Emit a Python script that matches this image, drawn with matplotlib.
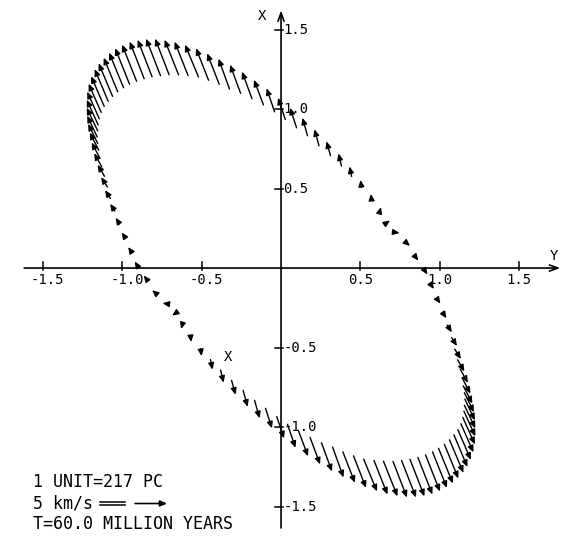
import matplotlib
matplotlib.use("Agg")
import matplotlib.pyplot as plt

# velocity arrows: head position (Y horizontal, X vertical) and velocity vector
# upper-left lobe
ul_y = [0.057, -0.019, -0.091, -0.170, -0.246, -0.321, -0.394, -0.466, -0.536, -0.605,
        -0.671, -0.734, -0.794, -0.851, -0.904, -0.954, -1.002, -1.046, -1.084, -1.118,
        -1.150, -1.175, -1.197, -1.213, -1.222, -1.225, -1.225, -1.222, -1.216, -1.206,
        -1.194, -1.178, -1.156, -1.134, -1.109, -1.077, -1.043, -1.005, -0.964, -0.923]
ul_x = [1.008, 1.071, 1.131, 1.184, 1.235, 1.279, 1.317, 1.351, 1.383, 1.405,
        1.424, 1.436, 1.443, 1.443, 1.436, 1.424, 1.405, 1.383, 1.355, 1.323,
        1.288, 1.251, 1.206, 1.159, 1.109, 1.058, 1.008, 0.958, 0.907, 0.852,
        0.790, 0.722, 0.650, 0.572, 0.490, 0.404, 0.316, 0.224, 0.132, 0.041]
ul_vy = [-0.041, -0.046, -0.050, -0.059, -0.063, -0.066, -0.069, -0.076, -0.079, -0.084,
         -0.085, -0.088, -0.088, -0.091, -0.091, -0.091, -0.091, -0.091, -0.091, -0.088,
         -0.088, -0.085, -0.082, -0.079, -0.076, -0.072, -0.069, -0.063, -0.060, -0.057,
         -0.052, -0.048, -0.043, -0.039, -0.033, -0.029, -0.025, -0.022, -0.019, -0.016]
ul_vx = [0.126, 0.137, 0.148, 0.158, 0.170, 0.180, 0.191, 0.195, 0.202, 0.203,
         0.214, 0.221, 0.227, 0.233, 0.233, 0.233, 0.230, 0.227, 0.221, 0.214,
         0.208, 0.202, 0.189, 0.180, 0.170, 0.158, 0.145, 0.134, 0.123, 0.111,
         0.099, 0.086, 0.073, 0.062, 0.052, 0.045, 0.038, 0.032, 0.028, 0.025]

# lower-right lobe
lr_y = [-0.057, 0.019, 0.091, 0.170, 0.246, 0.321, 0.394, 0.466, 0.536, 0.605,
        0.671, 0.734, 0.794, 0.851, 0.904, 0.954, 1.002, 1.046, 1.084, 1.118,
        1.150, 1.175, 1.197, 1.213, 1.222, 1.225, 1.225, 1.222, 1.216, 1.206,
        1.194, 1.178, 1.156, 1.134, 1.109, 1.077, 1.043, 1.005, 0.964, 0.923]
lr_x = [-1.008, -1.071, -1.131, -1.184, -1.235, -1.279, -1.317, -1.351, -1.383, -1.405,
        -1.424, -1.436, -1.443, -1.443, -1.436, -1.424, -1.405, -1.383, -1.355, -1.323,
        -1.288, -1.251, -1.206, -1.159, -1.109, -1.058, -1.008, -0.958, -0.907, -0.852,
        -0.790, -0.722, -0.650, -0.572, -0.490, -0.404, -0.316, -0.224, -0.132, -0.041]
lr_vy = [0.041, 0.046, 0.050, 0.059, 0.063, 0.066, 0.069, 0.076, 0.079, 0.084,
         0.085, 0.088, 0.088, 0.091, 0.091, 0.091, 0.091, 0.091, 0.091, 0.088,
         0.088, 0.085, 0.082, 0.079, 0.076, 0.072, 0.069, 0.063, 0.060, 0.057,
         0.052, 0.048, 0.043, 0.039, 0.033, 0.029, 0.025, 0.022, 0.019, 0.016]
lr_vx = [-0.126, -0.137, -0.148, -0.158, -0.170, -0.180, -0.191, -0.195, -0.202, -0.203,
         -0.214, -0.221, -0.227, -0.233, -0.233, -0.233, -0.230, -0.227, -0.221, -0.214,
         -0.208, -0.202, -0.189, -0.180, -0.170, -0.158, -0.145, -0.134, -0.123, -0.111,
         -0.099, -0.086, -0.073, -0.062, -0.052, -0.045, -0.038, -0.032, -0.028, -0.025]

# upper-right diagonal
ur_y = [0.135, 0.211, 0.287, 0.362, 0.432, 0.501, 0.567, 0.630, 0.687, 0.747, 0.813, 0.866]
ur_x = [0.945, 0.873, 0.797, 0.721, 0.639, 0.554, 0.466, 0.384, 0.299, 0.221, 0.139, 0.047]
ur_vy = [-0.032, -0.028, -0.025, -0.019, -0.013, -0.006, -0.003, 0.006, 0.019, 0.022, 0.022, 0.022]
ur_vx = [0.113, 0.104, 0.091, 0.079, 0.063, 0.047, 0.032, 0.022, 0.013, -0.003, -0.019, -0.028]

# lower-left diagonal
ll_y = [-0.866, -0.813, -0.747, -0.687, -0.630, -0.567, -0.501, -0.432, -0.362, -0.287, -0.211, -0.135]
ll_x = [-0.047, -0.139, -0.221, -0.299, -0.384, -0.466, -0.554, -0.639, -0.721, -0.797, -0.873, -0.945]
ll_vy = [-0.022, -0.022, -0.022, -0.019, -0.006, 0.003, 0.006, 0.013, 0.019, 0.025, 0.028, 0.032]
ll_vx = [0.028, 0.019, 0.003, -0.013, -0.022, -0.032, -0.047, -0.063, -0.079, -0.091, -0.104, -0.113]

tick_vals = [-1.5, -1.0, -0.5, 0.5, 1.0, 1.5]
tick_labels = ["-1.5", "-1.0", "-0.5", "0.5", "1.0", "1.5"]

plt.rcParams['font.family'] = ['DejaVu Sans Mono', 'DejaVu Sans']

fig = plt.figure(figsize=(5.7, 5.45), dpi=100)
ax = fig.add_axes([0, 0, 1, 1])
ax.set_xlim(-1.772, 1.822)
ax.set_ylim(-1.742, 1.686)
ax.axis('off')

# axes with arrow ends
axis_style = dict(arrowstyle='->,head_length=0.6,head_width=0.22', lw=1.2, color='black',
                  shrinkA=0, shrinkB=0)
ax.annotate('', xy=(1.76, 0), xytext=(-1.62, 0), arrowprops=axis_style)
ax.annotate('', xy=(0, 1.62), xytext=(0, -1.635), arrowprops=axis_style)

for t, lab in zip(tick_vals, tick_labels):
    ax.plot([t, t], [-0.015, 0.035], color='black', lw=1.1)
    ax.plot([-0.035, 0.012], [t, t], color='black', lw=1.1)
    shift = 0.028 if t < 0 else 0.0
    ax.text(t + shift, -0.075, lab, ha='center', va='center', fontsize=10)
    ax.text(0.014, t, lab, ha='left', va='center', fontsize=10)

ax.text(1.72, 0.075, "Y", ha='center', va='center', fontsize=10)
ax.text(-0.118, 1.585, "X", ha='center', va='center', fontsize=10)
ax.text(-0.334, -0.562, "X", ha='center', va='center', fontsize=10)

# velocity arrows
arrow_style = dict(arrowstyle='-|>,head_length=0.38,head_width=0.17', lw=1.0, color='black',
                   shrinkA=0, shrinkB=0)
groups = [(ul_y, ul_x, ul_vy, ul_vx), (lr_y, lr_x, lr_vy, lr_vx),
          (ur_y, ur_x, ur_vy, ur_vx), (ll_y, ll_x, ll_vy, ll_vx)]
for hy, hx, vy, vx in groups:
    for i in range(len(hy)):
        ax.annotate('', xy=(hy[i], hx[i]), xytext=(hy[i] - vy[i], hx[i] - vx[i]),
                    arrowprops=arrow_style)

# notes at lower left
ax.text(-1.562, -1.348, "1 UNIT=217 PC", ha='left', va='center', fontsize=12)
ax.text(-1.562, -1.481, "5 km/s", ha='left', va='center', fontsize=12)
# double bar sign between the speed and the scale arrow
ax.plot([-1.140, -0.985], [-1.470, -1.470], color='black', lw=1.1)
ax.plot([-1.140, -0.985], [-1.488, -1.488], color='black', lw=1.1)
ax.annotate('', xy=(-0.718, -1.481), xytext=(-0.920, -1.481),
            arrowprops=dict(arrowstyle='-|>,head_length=0.4,head_width=0.17', lw=1.2,
                            color='black', shrinkA=0, shrinkB=0))
ax.text(-1.562, -1.607, "T=60.0 MILLION YEARS", ha='left', va='center', fontsize=12)

fig.savefig("out.png", dpi=100)
